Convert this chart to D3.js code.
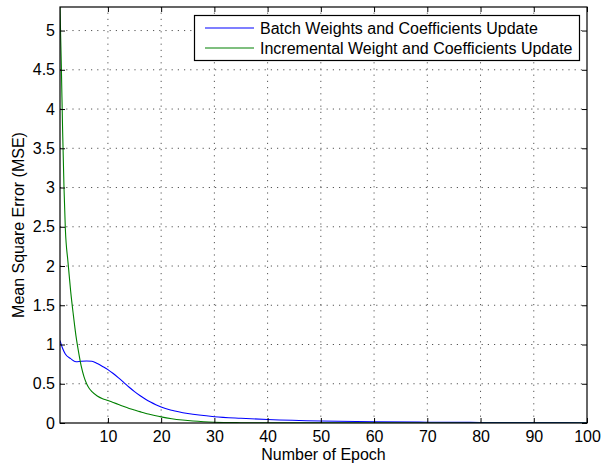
<!DOCTYPE html>
<html lang="en">
<head>
    <meta charset="UTF-8">
    <title>MSE vs Epoch</title>
    <style>
        body { margin: 0; background: #fff; }
        svg { display: block; font-family: "Liberation Sans", Arial, Helvetica, sans-serif; }
        .grid line { stroke: #555; stroke-width: 1; stroke-dasharray: 1.2,5; }
    </style>
</head>
<body>
    <svg class="chart-svg" width="601" height="468"></svg>
    <script src="https://d3js.org/d3.v7.min.js"></script>
    <script>
        // Data
        var seriesNames = ["Batch Weights and Coefficients Update",
                           "Incremental Weight and Coefficients Update"];
        var seriesColors = ["#0000ff", "#008000"];

        var batchEpoch = [1, 1.5, 2, 3, 4, 5, 6, 7, 8, 9, 10, 11, 12, 13, 14, 15, 16, 17, 18, 19, 20,
                          22, 25, 30, 35, 40, 50, 60, 70, 80, 90, 100];
        var batchMSE = [1.05, 0.95, 0.88, 0.82, 0.78, 0.787, 0.79, 0.787, 0.757, 0.72, 0.68, 0.63,
                        0.574, 0.515, 0.455, 0.40, 0.35, 0.306, 0.268, 0.234, 0.204,
                        0.162, 0.12, 0.08, 0.06, 0.045, 0.025, 0.015, 0.01, 0.007, 0.005, 0.004];

        var incrEpoch = [1, 1.25, 1.5, 1.75, 2, 2.5, 3, 3.5, 4, 4.5, 5, 5.5, 6, 6.5, 7, 8, 9, 10, 11, 12, 13,
                         14, 15, 16, 17, 18, 19, 20, 22, 24, 26, 28, 30, 35, 40, 50, 100];
        var incrMSE = [5.3, 4.55, 3.7, 3.0, 2.48, 2.05, 1.68, 1.38, 1.11, 0.9, 0.72, 0.59, 0.5, 0.44, 0.4,
                       0.345, 0.31, 0.288, 0.262, 0.236, 0.21, 0.186, 0.165, 0.145, 0.125, 0.108,
                       0.092, 0.078, 0.055, 0.038, 0.025, 0.016, 0.01, 0.004, 0.002, 0.001, 0.0];

        var xTicks = [10, 20, 30, 40, 50, 60, 70, 80, 90, 100];
        var yTicks = [0, 0.5, 1, 1.5, 2, 2.5, 3, 3.5, 4, 4.5, 5];

        var svg = d3.select(".chart-svg");
        var margin = { left: 60, right: 14, top: 7, bottom: 45 };
        var W = +svg.attr("width"), H = +svg.attr("height");
        var x0 = margin.left, x1 = W - margin.right;
        var y0 = H - margin.bottom, y1 = margin.top;

        var x = d3.scaleLinear().domain([1, 100]).range([x0, x1]);
        var y = d3.scaleLinear().domain([0, 5.3]).range([y0, y1]);
        var fmt = d3.format("~g");

        // grid
        var grid = svg.append("g").attr("class", "grid");
        grid.selectAll(".gx").data(xTicks.filter(d => d < 100)).enter().append("line")
            .attr("x1", d => x(d)).attr("x2", d => x(d))
            .attr("y1", y0).attr("y2", y1);
        grid.selectAll(".gy").data(yTicks.filter(d => d > 0)).enter().append("line")
            .attr("x1", x0).attr("x2", x1)
            .attr("y1", d => y(d)).attr("y2", d => y(d));

        // lines
        var line = d3.line().curve(d3.curveMonotoneX).x(d => x(d[0])).y(d => y(d[1]));
        var series = [d3.zip(batchEpoch, batchMSE), d3.zip(incrEpoch, incrMSE)];
        svg.append("clipPath").attr("id", "clip").append("rect")
            .attr("x", x0).attr("y", y1).attr("width", x1 - x0).attr("height", y0 - y1);
        svg.append("g").attr("clip-path", "url(#clip)")
            .selectAll("path").data(series).enter().append("path")
            .attr("d", line)
            .attr("fill", "none")
            .attr("stroke", (d, i) => seriesColors[i])
            .attr("stroke-width", 1.1);

        // axes (inner ticks on all sides, like MATLAB)
        var tickLen = 5;
        var axB = svg.append("g").attr("transform", "translate(0," + y0 + ")")
            .call(d3.axisBottom(x).tickValues(xTicks).tickFormat(fmt).tickSizeInner(-tickLen).tickSizeOuter(0).tickPadding(8));
        var axT = svg.append("g").attr("transform", "translate(0," + y1 + ")")
            .call(d3.axisTop(x).tickValues(xTicks).tickSizeInner(-tickLen).tickSizeOuter(0).tickFormat(""));
        var axL = svg.append("g").attr("transform", "translate(" + x0 + ",0)")
            .call(d3.axisLeft(y).tickValues(yTicks).tickFormat(fmt).tickSizeInner(-tickLen).tickSizeOuter(0).tickPadding(5));
        var axR = svg.append("g").attr("transform", "translate(" + x1 + ",0)")
            .call(d3.axisRight(y).tickValues(yTicks).tickSizeInner(-tickLen).tickSizeOuter(0).tickFormat(""));
        [axB, axT, axL, axR].forEach(function (g) {
            g.select(".domain").remove();
            g.selectAll("line").attr("stroke", "#000");
            g.selectAll("text").attr("fill", "#000").style("font-size", "16px")
                .style("font-family", "'Liberation Sans', Arial, sans-serif");
        });

        // frame
        svg.append("rect").attr("x", x0).attr("y", y1)
            .attr("width", x1 - x0).attr("height", y0 - y1)
            .attr("fill", "none").attr("stroke", "#000").attr("stroke-width", 1.2);

        // axis labels
        svg.append("text").attr("x", (x0 + x1) / 2).attr("y", 460)
            .attr("text-anchor", "middle").style("font-size", "16px").text("Number of Epoch");
        svg.append("text")
            .attr("transform", "translate(24,225) rotate(-90)")
            .attr("text-anchor", "middle").style("font-size", "16px").text("Mean Square Error (MSE)");

        // legend
        var lg = svg.append("g");
        lg.append("rect").attr("x", 194.5).attr("y", 15.5).attr("width", 385).attr("height", 45)
            .attr("fill", "#fff").attr("stroke", "#000").attr("stroke-width", 1.2);
        seriesNames.forEach(function (name, i) {
            var ly = 28 + i * 20;
            lg.append("line").attr("x1", 205).attr("x2", 254).attr("y1", ly).attr("y2", ly)
                .attr("stroke", seriesColors[i]).attr("stroke-width", 1.1);
            lg.append("text").attr("x", 260).attr("y", ly + 5.7)
                .style("font-size", "16px").text(name);
        });
    </script>
</body>
</html>
